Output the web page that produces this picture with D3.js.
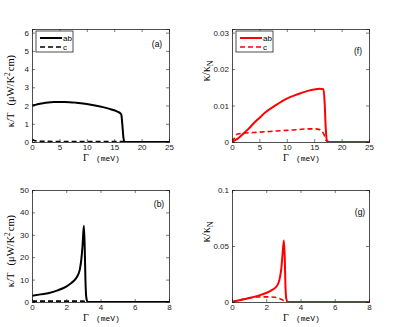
<!DOCTYPE html>
<html>
<head>
<meta charset="utf-8">
<script src="https://cdn.jsdelivr.net/npm/d3@7"></script>
<style>
  body { margin: 0; background: #fff; }
  svg text { font-family: "Liberation Sans", Arial, sans-serif; }
</style>
</head>
<body>
<div id="chart"></div>
<script>
// panel (a): kappa/T vs Gamma, ab and c
var gammaA   = [0, 0.5, 1, 2, 3, 4, 5, 6, 8, 10, 12, 14, 15, 15.7, 16.1, 16.3, 16.5, 16.7, 16.9, 17.3, 20, 25];
var kabA     = [2.0, 2.03, 2.07, 2.13, 2.17, 2.19, 2.2, 2.2, 2.16, 2.08, 1.97, 1.83, 1.74, 1.65, 1.58, 1.5, 0.9, 0.2, 0.02, 0, 0, 0];
var gammaAc  = [0, 0.3, 0.7, 1.5, 5, 10, 15, 16.5, 16.9, 17.3, 25];
var kcA      = [0.15, 0.1, 0.06, 0.04, 0.03, 0.03, 0.03, 0.03, 0.01, 0, 0];

// panel (f): kappa/kappa_N vs Gamma
var gammaF   = [0, 0.3, 0.6, 1, 2, 3, 4, 5, 6, 8, 10, 12, 14, 15, 16, 16.7, 16.9, 17.1, 17.3, 17.7, 25];
var kabF     = [0.0008, 0.0003, 0.0005, 0.0009, 0.0022, 0.0036, 0.0052, 0.0066, 0.008, 0.0101, 0.0119, 0.0131, 0.0141, 0.0144, 0.0146, 0.0145, 0.011, 0.004, 0.0005, 0, 0];
var gammaFc  = [0, 0.5, 1, 2, 4, 6, 8, 10, 12, 14, 15, 16, 16.4, 16.8, 17.2, 17.6, 25];
var kcF      = [0, 0.0012, 0.0022, 0.0024, 0.0026, 0.0028, 0.003, 0.0032, 0.0034, 0.0036, 0.0036, 0.0034, 0.003, 0.002, 0.0004, 0, 0];

// panel (b)
var gammaB   = [0, 0.5, 1, 1.5, 2, 2.3, 2.5, 2.7, 2.8, 2.88, 2.95, 3.03, 3.08, 3.12, 3.17, 3.25, 4, 8];
var kabB     = [2.8, 3.4, 4.0, 5.2, 6.9, 8.5, 9.9, 12.3, 14.8, 19, 25, 34, 24, 10, 2, 0, 0, 0];
var gammaBc  = [0, 1, 2, 3, 3.15, 3.25, 8];
var kcB      = [0.4, 0.4, 0.4, 0.4, 0.1, 0, 0];

// panel (g)
var gammaG   = [0, 0.5, 1, 1.5, 2, 2.3, 2.5, 2.7, 2.8, 2.88, 2.95, 3.03, 3.08, 3.12, 3.17, 3.25, 4, 8];
var kabG     = [0.0003, 0.0018, 0.0035, 0.0055, 0.008, 0.0103, 0.0124, 0.0165, 0.022, 0.03, 0.042, 0.055, 0.04, 0.015, 0.003, 0, 0, 0];
var gammaGc  = [0, 0.5, 1, 1.5, 2, 2.5, 2.8, 3.0, 3.15, 3.25, 8];
var kcG      = [0, 0.002, 0.0035, 0.0045, 0.0046, 0.0042, 0.003, 0.0015, 0, 0, 0];

var xTicks25 = [0, 5, 10, 15, 20, 25];
var xTicks8  = [0, 2, 4, 6, 8];
var yTicksA  = [0, 1, 2, 3, 4, 5, 6];
var yTicksF  = [0, 0.01, 0.02, 0.03];
var yTicksB  = [0, 10, 20, 30, 40, 50];
var yTicksG  = [0, 0.05, 0.1];

var width = 415,
    height = 327;

var svg = d3.select("#chart")
  .append("svg")
    .attr("width", width)
    .attr("height", height);

var decFmt = function(d){ return d === 0 ? "0" : String(d); };

var panels = [
  {x0: 32, x1: 169, y0: 29, y1: 142, xmax: 25, ymax: 6.2, xt: xTicks25, yt: yTicksA, yfmt: d3.format("d"),
   color: "#000", series: [[gammaA, kabA, false], [gammaAc, kcA, true]], tag: "(a)", tx: 157, ty: 47, legend: true, ylab: "kt", ly: 91},
  {x0: 232, x1: 369, y0: 29, y1: 142, xmax: 25, ymax: 0.031, xt: xTicks25, yt: yTicksF, yfmt: decFmt,
   color: "#ff0000", series: [[gammaF, kabF, false], [gammaFc, kcF, true]], tag: "(f)", tx: 358, ty: 54, legend: true, ylab: "kn", ly: 71},
  {x0: 32, x1: 169, y0: 190, y1: 302, xmax: 8, ymax: 50, xt: xTicks8, yt: yTicksB, yfmt: d3.format("d"),
   color: "#000", series: [[gammaB, kabB, false], [gammaBc, kcB, true]], tag: "(b)", tx: 159, ty: 207, legend: false, ylab: "kt", ly: 251},
  {x0: 232, x1: 369, y0: 190, y1: 302, xmax: 8, ymax: 0.1, xt: xTicks8, yt: yTicksG, yfmt: decFmt,
   color: "#ff0000", series: [[gammaG, kabG, false], [gammaGc, kcG, true]], tag: "(g)", tx: 360, ty: 215, legend: false, ylab: "kn", ly: 232}
];

panels.forEach(function(p) {
  var x = d3.scaleLinear().domain([0, p.xmax]).range([p.x0, p.x1]);
  var y = d3.scaleLinear().domain([0, p.ymax]).range([p.y1, p.y0]);
  var g = svg.append("g");

  // clip so the curves stay inside the box
  var cid = "clip" + p.tag.replace(/\W/g, "");
  svg.append("clipPath").attr("id", cid)
    .append("rect").attr("x", p.x0).attr("y", p.y0 - 1).attr("width", p.x1 - p.x0).attr("height", p.y1 - p.y0 + 1);

  var line = d3.line()
    .x(function(d){ return x(d[0]); })
    .y(function(d){ return y(d[1]); })
    .curve(d3.curveMonotoneX);

  p.series.forEach(function(s) {
    var pts = s[0].map(function(v, i){ return [v, s[1][i]]; });
    g.append("path")
      .attr("d", line(pts))
      .attr("clip-path", "url(#" + cid + ")")
      .attr("fill", "none")
      .attr("stroke", p.color)
      .attr("stroke-width", s[2] ? 1.6 : 2)
      .attr("stroke-dasharray", s[2] ? "5,3" : null)
      .attr("stroke-linejoin", "round");
  });

  // inward ticks on all four sides, matlab style
  var tl = 3;
  var axB = d3.axisBottom(x).tickValues(p.xt).tickSize(-tl).tickPadding(2).tickFormat(d3.format("d"));
  var axT = d3.axisTop(x).tickValues(p.xt).tickSize(-tl).tickFormat("");
  var axL = d3.axisLeft(y).tickValues(p.yt).tickSize(-tl).tickPadding(3).tickFormat(p.yfmt);
  var axR = d3.axisRight(y).tickValues(p.yt).tickSize(-tl).tickFormat("");

  [[axB, "translate(0," + p.y1 + ")"], [axT, "translate(0," + p.y0 + ")"],
   [axL, "translate(" + p.x0 + ",0)"], [axR, "translate(" + p.x1 + ",0)"]].forEach(function(a) {
    var ag = g.append("g").attr("transform", a[1]).call(a[0]);
    ag.select(".domain").attr("stroke", "#222").attr("stroke-width", 0.8);
    ag.selectAll(".tick line").attr("stroke", "#222").attr("stroke-width", 0.6);
    ag.selectAll("text").attr("fill", "#222").style("font-size", "8px");
  });

  // tag
  g.append("text")
    .attr("x", p.tx).attr("y", p.ty)
    .attr("text-anchor", "middle")
    .style("font-size", "8.5px")
    .text(p.tag);

  // x label
  var xl = g.append("text")
    .attr("x", (p.x0 + p.x1) / 2 + 1).attr("y", p.y1 + 19)
    .attr("text-anchor", "middle")
    .style("font-size", "10px");
  xl.append("tspan").style("font-family", "Liberation Serif").text("\u0393");
  xl.append("tspan").style("font-family", "Liberation Mono").style("font-size", "8px").attr("dx", 7).text("(meV)");

  // y label
  var yx = p.ylab === "kt" ? 14 : 210;
  var yl = g.append("text")
    .attr("transform", "translate(" + yx + "," + p.ly + ") rotate(-90)")
    .attr("text-anchor", "middle")
    .style("font-family", "Liberation Serif")
    .style("font-size", p.ylab === "kt" ? "10.5px" : "12px");
  if (p.ylab === "kt") {
    yl.append("tspan").text("\u03ba/T");
    yl.append("tspan").attr("dx", 7).text("(\u03bcW/K");
    yl.append("tspan").attr("dy", -4).style("font-size", "7.5px").text("2");
    yl.append("tspan").attr("dy", 4).attr("dx", 1).text("cm)");
  } else {
    yl.append("tspan").text("\u03ba/\u03ba");
    yl.append("tspan").attr("dy", 3).style("font-size", "8px").text("N");
  }

  if (p.legend) {
    var lx = p.x0 + 4, ly = p.y0 + 2;
    g.append("rect")
      .attr("x", lx).attr("y", ly).attr("width", 37).attr("height", 21)
      .attr("fill", "#fff").attr("stroke", "#222").attr("stroke-width", 0.8);
    [["ab", false, 7], ["c", true, 16]].forEach(function(e) {
      g.append("line")
        .attr("x1", lx + 4).attr("x2", lx + 26)
        .attr("y1", ly + e[2]).attr("y2", ly + e[2])
        .attr("stroke", p.color)
        .attr("stroke-width", e[1] ? 1.6 : 2)
        .attr("stroke-dasharray", e[1] ? "5,3" : null);
      g.append("text")
        .attr("x", lx + 27).attr("y", ly + e[2] + 3)
        .style("font-size", "8px")
        .text(e[0]);
    });
  }
});
</script>
</body>
</html>
